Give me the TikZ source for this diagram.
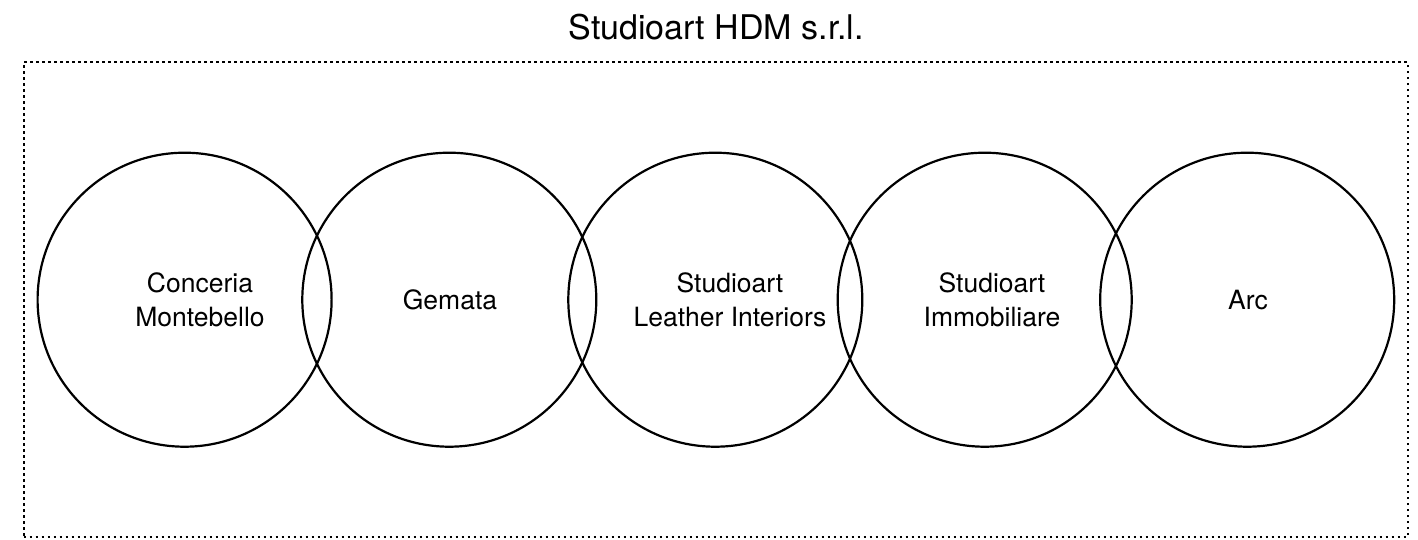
\documentclass[tikz,border=0pt]{standalone}
\usepackage{fontspec}
\setmainfont{TeX Gyre Heros}
\begin{document}
\begin{tikzpicture}[x=1pt,y=-1pt,
  ring/.style={draw=black,line width=2.2pt,circle,minimum size=294pt,inner sep=0pt},
  lbl/.style={align=center,font=\fontsize{26.5}{34}\selectfont},
  ttl/.style={font=\fontsize{34}{40}\selectfont},
  frame/.style={draw=black,line width=2pt,dash pattern=on 2.5pt off 3.5pt}]
\useasboundingbox (0,0) rectangle (1418,539);
\node[frame,rectangle,minimum width=1384pt,minimum height=475pt,inner sep=0pt] (box) at (715.5,299.5) {};
\node[ttl] (title) at (716,27) {Studioart HDM s.r.l.};
\node[ring] (c1) at (184.6,299.7) {};
\node[ring] (c2) at (449.3,299.7) {};
\node[ring] (c3) at (715.3,299.7) {};
\node[ring] (c4) at (984.7,299.7) {};
\node[ring] (c5) at (1247.2,299.7) {};
\node[lbl] (t1) at (200,300) {Conceria\\Montebello};
\node[lbl] (t2) at (450,300) {Gemata};
\node[lbl] (t3) at (730,300) {Studioart\\Leather Interiors};
\node[lbl] (t4) at (992,300) {Studioart\\Immobiliare};
\node[lbl] (t5) at (1248,300) {Arc};
\end{tikzpicture}
\end{document}
